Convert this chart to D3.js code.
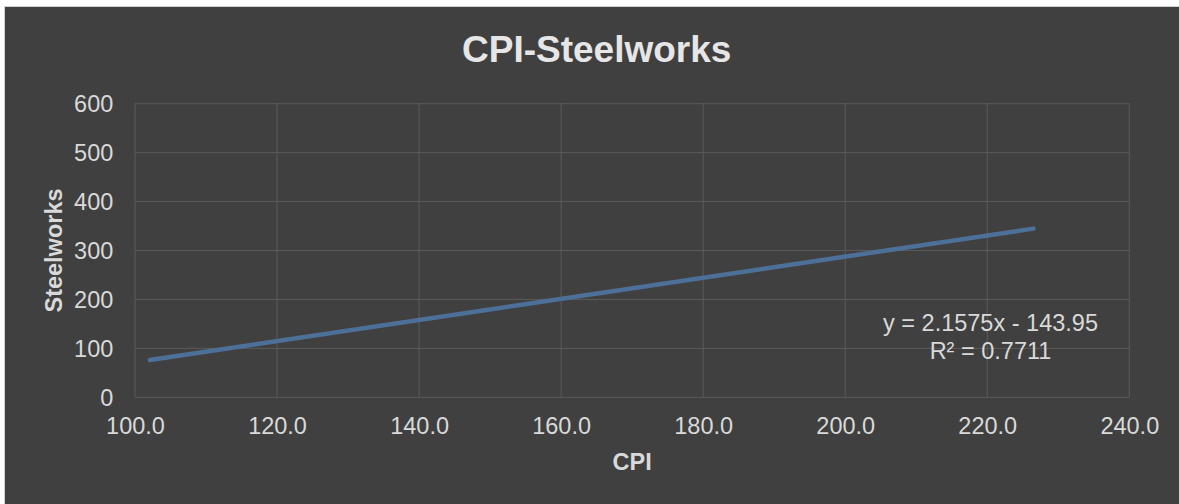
<!DOCTYPE html>
<html>
<head>
<meta charset="utf-8">
<script src="https://cdn.jsdelivr.net/npm/d3@7"></script>
<style>
  html, body { margin: 0; padding: 0; background: #ffffff; }
  svg { display: block; }
</style>
</head>
<body>
<svg id="chart" width="1179" height="504"></svg>
<script>
// ---- data ----
const chartTitle = "CPI-Steelworks";
const xTitle = "CPI";
const yTitle = "Steelworks";
const xTicks = [100, 120, 140, 160, 180, 200, 220, 240];
const yTicks = [0, 100, 200, 300, 400, 500, 600];
const cpiRange = [102.1, 226.5];           // extent of CPI data (trendline span)
const trendSlope = 2.1575;
const trendIntercept = -143.95;
const trendLabels = ["y = 2.1575x - 143.95", "R\u00B2 = 0.7711"];

// ---- layout ----
const W = 1179, H = 504;
const plot = { left: 135, right: 1129.3, top: 103.7, bottom: 397.3 };
const font = "'Liberation Sans', Arial, sans-serif";
const svg = d3.select("#chart");

svg.append("rect")
  .attr("x", 4.5).attr("y", 6.5)
  .attr("width", W + 10).attr("height", H + 10)
  .attr("fill", "#404040")
  .attr("stroke", "#d0d0d0").attr("stroke-width", 1);

const x = d3.scaleLinear().domain([100, 240]).range([plot.left, plot.right]);
const y = d3.scaleLinear().domain([0, 600]).range([plot.bottom, plot.top]);

// gridlines
const grid = svg.append("g");
grid.selectAll("line.v").data(xTicks).join("line")
  .attr("x1", d => x(d)).attr("x2", d => x(d))
  .attr("y1", plot.top).attr("y2", plot.bottom)
  .attr("stroke", "#5a5a5a").attr("stroke-width", 1);
grid.selectAll("line.h").data(yTicks).join("line")
  .attr("x1", plot.left).attr("x2", plot.right)
  .attr("y1", d => y(d)).attr("y2", d => y(d))
  .attr("stroke", "#5a5a5a").attr("stroke-width", 1);

// axes
const xAxis = svg.append("g")
  .attr("transform", `translate(0,${plot.bottom})`)
  .call(d3.axisBottom(x).tickValues(xTicks).tickFormat(d3.format(".1f")).tickSize(0).tickPadding(0));
xAxis.select(".domain").remove();
xAxis.selectAll("text")
  .attr("y", 37).attr("dy", null)
  .attr("fill", "#d9d9d9").style("font-family", font).style("font-size", "23.5px");

const yAxis = svg.append("g")
  .attr("transform", `translate(${plot.left},0)`)
  .call(d3.axisLeft(y).tickValues(yTicks).tickSize(0).tickPadding(0));
yAxis.select(".domain").remove();
yAxis.selectAll("text")
  .attr("x", -21.7).attr("dy", "0.35em")
  .attr("fill", "#d9d9d9").style("font-family", font).style("font-size", "23.5px");

// trendline
const trend = cpiRange.map(c => ({ x: c, y: trendSlope * c + trendIntercept }));
svg.append("path")
  .datum(trend)
  .attr("d", d3.line().x(d => x(d.x)).y(d => y(d.y)))
  .attr("fill", "none")
  .attr("stroke", "#4d7099")
  .attr("stroke-width", 4.5)
  .attr("stroke-linecap", "round");

// trendline label
svg.append("text")
  .attr("x", 990.5).attr("y", 331)
  .attr("text-anchor", "middle")
  .attr("fill", "#d9d9d9").style("font-family", font).style("font-size", "23.5px")
  .selectAll("tspan").data(trendLabels).join("tspan")
  .attr("x", 990.5).attr("dy", (d, i) => i === 0 ? 0 : 28)
  .text(d => d);

// titles
svg.append("text")
  .attr("x", 596.7).attr("y", 61.7)
  .attr("text-anchor", "middle")
  .attr("fill", "#e6e6e6").style("font-family", font)
  .style("font-size", "37px").style("font-weight", "bold")
  .text(chartTitle);

svg.append("text")
  .attr("x", (plot.left + plot.right) / 2).attr("y", 470)
  .attr("text-anchor", "middle")
  .attr("fill", "#d9d9d9").style("font-family", font)
  .style("font-size", "23.5px").style("font-weight", "bold")
  .text(xTitle);

svg.append("text")
  .attr("transform", `translate(61.5,${(plot.top + plot.bottom) / 2}) rotate(-90)`)
  .attr("text-anchor", "middle")
  .attr("fill", "#d9d9d9").style("font-family", font)
  .style("font-size", "23.5px").style("font-weight", "bold")
  .text(yTitle);
</script>
</body>
</html>
